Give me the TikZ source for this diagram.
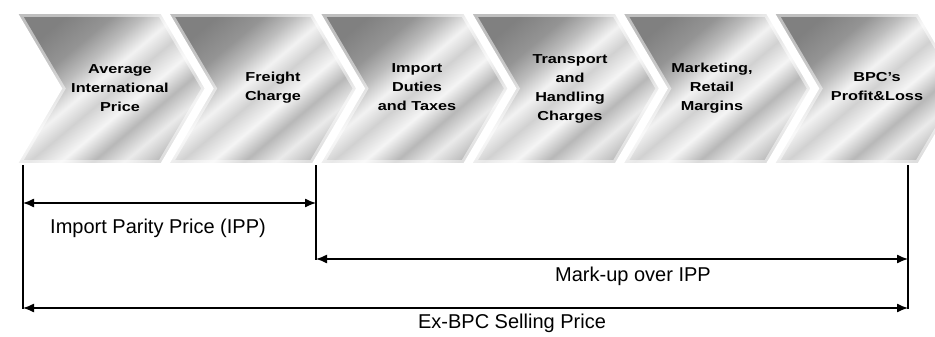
\documentclass[tikz,border=0pt]{standalone}
\usepackage{fontspec}
\usepackage{graphicx}
\setmainfont{Liberation Sans}
\usetikzlibrary{arrows.meta}

% diagonal grey banding used to fill each step of the chain
\pgfdeclareverticalshading{chevgrad}{100bp}{%
  color(0bp)=(black!26); color(25bp)=(black!26); color(31bp)=(black!8);
  color(37bp)=(black!28); color(43bp)=(black!4); color(49bp)=(black!18);
  color(54bp)=(black!5); color(60bp)=(black!26); color(66bp)=(black!42);
  color(75bp)=(black!50); color(100bp)=(black!50)}

% multi-line label inside a step, set a little wide
\newcommand\chevlbl[1]{\fontsize{13}{19}\selectfont\bfseries
  \scalebox{1.25}[1]{\begin{tabular}{@{}c@{}}#1\end{tabular}}}

\tikzset{
  chev/.style={shading=chevgrad, shading angle=40},
  chevglow/.style={draw=white, draw opacity=0.5, line width=10pt, line join=miter},
  chevedge/.style={draw=white, line width=4pt, line join=miter},
  chevtext/.style={inner sep=0pt, align=center},
  dimline/.style={line width=1.3pt, black},
  dimarrow/.style={line width=1.3pt, black,
    {Latex[length=11pt,width=9pt]}-{Latex[length=11pt,width=9pt]}},
  dimtext/.style={font=\fontsize{20}{24}\selectfont, inner sep=0pt}
}

\begin{document}
\begin{tikzpicture}[x=1pt, y=-1pt]
\useasboundingbox (0,0) rectangle (935,337);

% the six steps of the price chain: shaded body, soft bevel, white rim
\begin{scope}
  \clip (0,0) rectangle (935,337);
  \foreach \i in {0,...,5}{
    \pgfmathsetmacro{\L}{15+151.4*\i}
    \path[chev] (\L,12) -- ++(147,0) -- ++(45,76.5) -- ++(-45,76.5)
      -- ++(-147,0) -- ++(45,-76.5) -- cycle;
  }
  \foreach \i in {0,...,5}{
    \pgfmathsetmacro{\L}{15+151.4*\i}
    \path[chevglow] (\L,12) -- ++(147,0) -- ++(45,76.5) -- ++(-45,76.5)
      -- ++(-147,0) -- ++(45,-76.5) -- cycle;
    \path[chevedge] (\L,12) -- ++(147,0) -- ++(45,76.5) -- ++(-45,76.5)
      -- ++(-147,0) -- ++(45,-76.5) -- cycle;
  }
\end{scope}

\node[chevtext] (s1) at (120,89) {\chevlbl{Average\\International\\Price}};
\node[chevtext] (s2) at (273,87) {\chevlbl{Freight\\Charge}};
\node[chevtext] (s3) at (417,88) {\chevlbl{Import\\Duties\\and Taxes}};
\node[chevtext] (s4) at (570,88) {\chevlbl{Transport\\and\\Handling\\Charges}};
\node[chevtext] (s5) at (712,88) {\chevlbl{Marketing,\\Retail\\Margins}};
\node[chevtext] (s6) at (877,87) {\chevlbl{BPC's\\Profit\&Loss}};

% extension lines below the steps
\coordinate (lt) at (23,165);  \coordinate (lb) at (23,309);
\coordinate (mt) at (316,165); \coordinate (mb) at (316,260);
\coordinate (rt) at (908,165); \coordinate (rb) at (908,309);
\draw[dimline] (lt) -- (lb);
\draw[dimline] (mt) -- (mb);
\draw[dimline] (rt) -- (rb);

% dimension arrows
\coordinate (ippL) at (23,203);  \coordinate (ippR) at (316,203);
\coordinate (muL)  at (316,259); \coordinate (muR)  at (908,259);
\coordinate (exL)  at (23,308);  \coordinate (exR)  at (908,308);
\draw[dimarrow] (ippL) -- (ippR);
\draw[dimarrow] (muL) -- (muR);
\draw[dimarrow] (exL) -- (exR);

\node[dimtext] (ipp) at (158,228) {Import Parity Price (IPP)};
\node[dimtext] (mu)  at (633,276) {Mark-up over IPP};
\node[dimtext] (ex)  at (512,323) {Ex-BPC Selling Price};
\end{tikzpicture}
\end{document}
